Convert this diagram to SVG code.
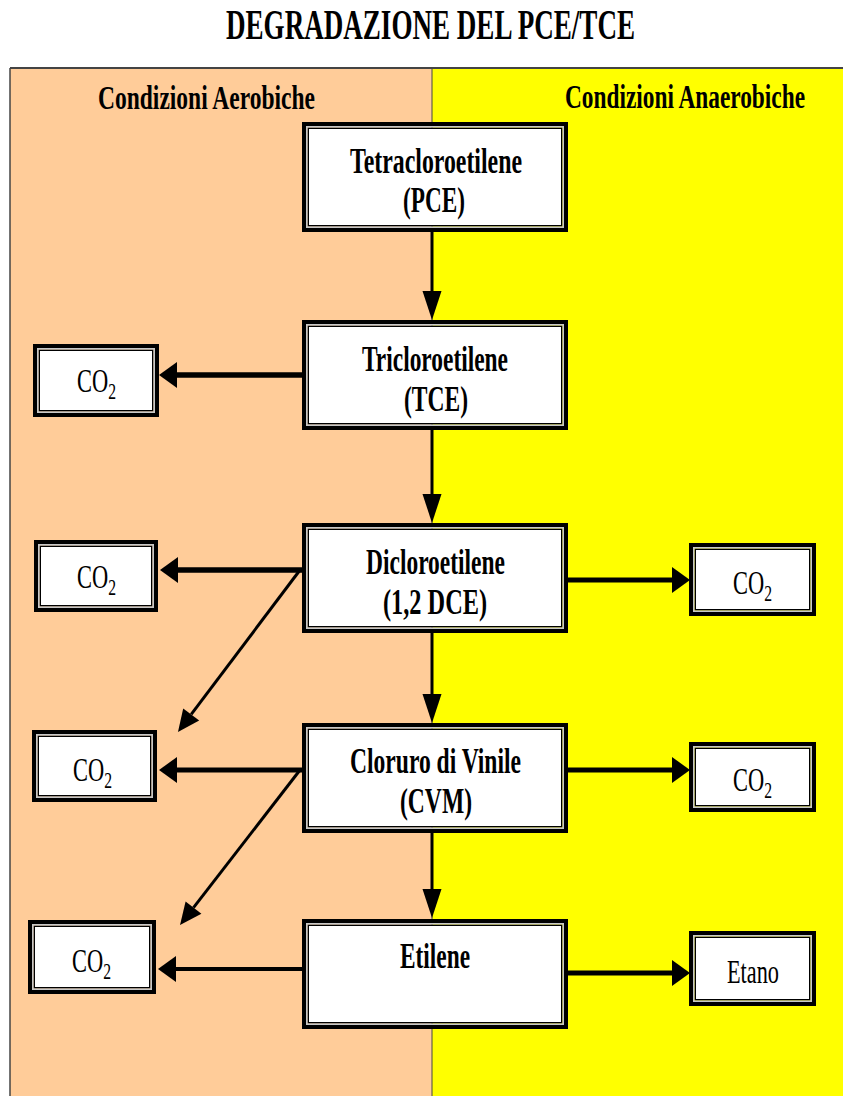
<svg xmlns="http://www.w3.org/2000/svg" width="843" height="1096" viewBox="0 0 843 1096">
<style>
.t{font-family:"Liberation Serif","Times New Roman",serif;fill:#000}
.b{font-weight:bold}
.title{font-size:42px}
.hdr{font-size:34px}
.lbl{font-size:36px}
.co{font-size:33px}
.sub{font-size:23px}
.o{fill:none;stroke:#000;stroke-width:4}
.g{fill:none;stroke:#c8c8c8;stroke-width:1.5}
.i{fill:#fff;stroke:#000;stroke-width:1.5}
.ln{stroke:#000;fill:none}
</style>
<defs>
<marker id="ah" markerUnits="userSpaceOnUse" markerWidth="18" markerHeight="26" refX="0" refY="13" orient="auto" overflow="visible"><path d="M0,0 L18,13 L0,26 Z" fill="#000"/></marker>
<marker id="av" markerUnits="userSpaceOnUse" markerWidth="29" markerHeight="19" refX="0" refY="9.5" orient="auto" overflow="visible"><path d="M0,0 L29,9.5 L0,19 Z" fill="#000"/></marker>
<marker id="ad" markerUnits="userSpaceOnUse" markerWidth="22" markerHeight="20" refX="0" refY="10" orient="auto" overflow="visible"><path d="M0,0 L22,10 L0,20 Z" fill="#000"/></marker>
</defs>
<rect width="843" height="1096" fill="#fff"/>
<g id="background">
<rect x="10" y="68" width="422" height="1028" fill="#FFCC99"/>
<rect x="432" y="68" width="411" height="1028" fill="#FFFF00"/>
<line x1="10" y1="68" x2="843" y2="68" stroke="#444" stroke-width="2"/>
<line x1="10" y1="68" x2="10" y2="1096" stroke="#444" stroke-width="1.5"/>
<line x1="432" y1="68" x2="432" y2="1096" stroke="#444" stroke-width="1"/>
</g>
<text class="t b title" x="226" y="39" textLength="409" lengthAdjust="spacingAndGlyphs">DEGRADAZIONE DEL PCE/TCE</text>
<text class="t b hdr" x="98" y="109" textLength="217" lengthAdjust="spacingAndGlyphs">Condizioni Aerobiche</text>
<text class="t b hdr" x="565" y="108" textLength="240" lengthAdjust="spacingAndGlyphs">Condizioni Anaerobiche</text>

<g id="connectors">
<line class="ln" x1="432" y1="232" x2="432" y2="291" stroke-width="3" marker-end="url(#av)"/>
<line class="ln" x1="432" y1="430" x2="432" y2="494" stroke-width="3" marker-end="url(#av)"/>
<line class="ln" x1="432" y1="633" x2="432" y2="694" stroke-width="3" marker-end="url(#av)"/>
<line class="ln" x1="432" y1="833" x2="432" y2="889" stroke-width="3" marker-end="url(#av)"/>
<line class="ln" x1="302" y1="375" x2="177" y2="375" stroke-width="5.5" marker-end="url(#ah)"/>
<line class="ln" x1="302" y1="570" x2="178" y2="570" stroke-width="5.5" marker-end="url(#ah)"/>
<line class="ln" x1="302" y1="770" x2="177" y2="770" stroke-width="5" marker-end="url(#ah)"/>
<line class="ln" x1="302" y1="969" x2="176" y2="969" stroke-width="4" marker-end="url(#ah)"/>
<line class="ln" x1="300" y1="570" x2="191.2" y2="714.4" stroke-width="3" marker-end="url(#ad)"/>
<line class="ln" x1="300" y1="770" x2="193.5" y2="907.6" stroke-width="3" marker-end="url(#ad)"/>
<line class="ln" x1="568" y1="580" x2="672" y2="580" stroke-width="5" marker-end="url(#ah)"/>
<line class="ln" x1="568" y1="770" x2="672" y2="770" stroke-width="5" marker-end="url(#ah)"/>
<line class="ln" x1="568" y1="973" x2="672" y2="973" stroke-width="5" marker-end="url(#ah)"/>
</g>

<g id="pce">
<rect class="i" x="308.25" y="128.25" width="253.5" height="97.5"/>
<rect class="g" x="306.75" y="126.75" width="256.5" height="100.5"/>
<rect class="o" x="304" y="124" width="262" height="106"/>
<text class="t b lbl" x="350" y="173" textLength="172" lengthAdjust="spacingAndGlyphs">Tetracloroetilene</text>
<text class="t b lbl" x="403" y="212" textLength="62" lengthAdjust="spacingAndGlyphs">(PCE)</text>
</g>
<g id="tce">
<rect class="i" x="308.25" y="326.25" width="253.5" height="97.5"/>
<rect class="g" x="306.75" y="324.75" width="256.5" height="100.5"/>
<rect class="o" x="304" y="322" width="262" height="106"/>
<text class="t b lbl" x="362" y="371" textLength="146" lengthAdjust="spacingAndGlyphs">Tricloroetilene</text>
<text class="t b lbl" x="404" y="411" textLength="64" lengthAdjust="spacingAndGlyphs">(TCE)</text>
</g>
<g id="dce">
<rect class="i" x="308.25" y="529.25" width="253.5" height="97.5"/>
<rect class="g" x="306.75" y="527.75" width="256.5" height="100.5"/>
<rect class="o" x="304" y="525" width="262" height="106"/>
<text class="t b lbl" x="366" y="574" textLength="139" lengthAdjust="spacingAndGlyphs">Dicloroetilene</text>
<text class="t b lbl" x="383" y="614" textLength="104" lengthAdjust="spacingAndGlyphs">(1,2 DCE)</text>
</g>
<g id="cvm">
<rect class="i" x="308.25" y="729.25" width="253.5" height="97.5"/>
<rect class="g" x="306.75" y="727.75" width="256.5" height="100.5"/>
<rect class="o" x="304" y="725" width="262" height="106"/>
<text class="t b lbl" x="350" y="773" textLength="171" lengthAdjust="spacingAndGlyphs">Cloruro di Vinile</text>
<text class="t b lbl" x="400" y="813" textLength="72" lengthAdjust="spacingAndGlyphs">(CVM)</text>
</g>
<g id="etilene">
<rect class="i" x="308.25" y="925.25" width="253.5" height="97.5"/>
<rect class="g" x="306.75" y="923.75" width="256.5" height="100.5"/>
<rect class="o" x="304" y="921" width="262" height="106"/>
<text class="t b lbl" x="400" y="968" textLength="70" lengthAdjust="spacingAndGlyphs">Etilene</text>
</g>

<g id="co2-l1">
<rect class="i" x="39.25" y="350.25" width="113.5" height="60.5"/>
<rect class="g" x="37.75" y="348.75" width="116.5" height="63.5"/>
<rect class="o" x="35" y="346" width="122" height="69"/>
<text class="t co" transform="translate(77,392) scale(0.68,1)">CO<tspan class="sub" dy="7">2</tspan></text>
</g>
<g id="co2-l2">
<rect class="i" x="40.25" y="546.25" width="111.5" height="59.5"/>
<rect class="g" x="38.75" y="544.75" width="114.5" height="62.5"/>
<rect class="o" x="36" y="542" width="120" height="68"/>
<text class="t co" transform="translate(77,588) scale(0.68,1)">CO<tspan class="sub" dy="7">2</tspan></text>
</g>
<g id="co2-l3">
<rect class="i" x="38.25" y="736.25" width="112.5" height="59.5"/>
<rect class="g" x="36.75" y="734.75" width="115.5" height="62.5"/>
<rect class="o" x="34" y="732" width="121" height="68"/>
<text class="t co" transform="translate(73,781) scale(0.68,1)">CO<tspan class="sub" dy="7">2</tspan></text>
</g>
<g id="co2-l4">
<rect class="i" x="34.25" y="926.25" width="115.5" height="61.5"/>
<rect class="g" x="32.75" y="924.75" width="118.5" height="64.5"/>
<rect class="o" x="30" y="922" width="124" height="70"/>
<text class="t co" transform="translate(72,972) scale(0.68,1)">CO<tspan class="sub" dy="7">2</tspan></text>
</g>
<g id="co2-r1">
<rect class="i" x="695.25" y="549.25" width="114.5" height="60.5"/>
<rect class="g" x="693.75" y="547.75" width="117.5" height="63.5"/>
<rect class="o" x="691" y="545" width="123" height="69"/>
<text class="t co" transform="translate(733,594) scale(0.68,1)">CO<tspan class="sub" dy="7">2</tspan></text>
</g>
<g id="co2-r2">
<rect class="i" x="695.25" y="748.25" width="114.5" height="57.5"/>
<rect class="g" x="693.75" y="746.75" width="117.5" height="60.5"/>
<rect class="o" x="691" y="744" width="123" height="66"/>
<text class="t co" transform="translate(733,791) scale(0.68,1)">CO<tspan class="sub" dy="7">2</tspan></text>
</g>
<g id="etano">
<rect class="i" x="695.25" y="937.25" width="114.5" height="62.5"/>
<rect class="g" x="693.75" y="935.75" width="117.5" height="65.5"/>
<rect class="o" x="691" y="933" width="123" height="71"/>
<text class="t co" x="727" y="983" textLength="52" lengthAdjust="spacingAndGlyphs">Etano</text>
</g>
</svg>
